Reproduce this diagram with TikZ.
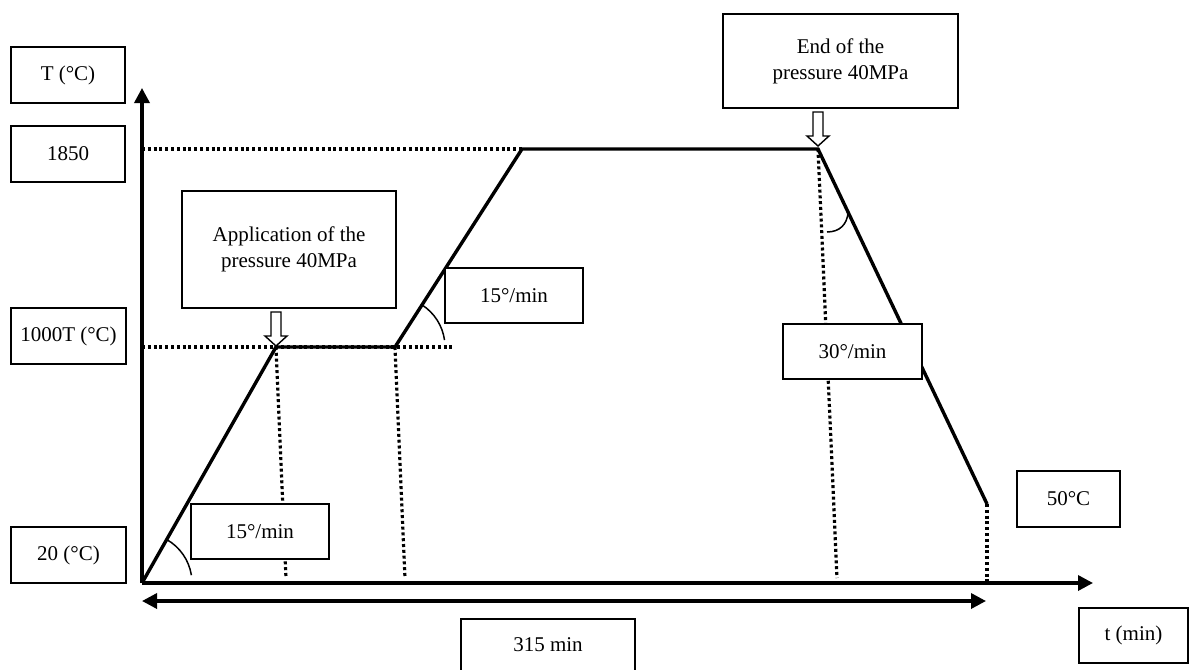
\documentclass[tikz,border=0pt]{standalone}
\usepackage{fontspec}
\setmainfont{Liberation Serif}
\usetikzlibrary{arrows.meta}
\begin{document}
\begin{tikzpicture}[x=1pt,y=-1pt,
  font=\fontsize{21}{26}\selectfont,
  box/.style={draw, line width=1.5pt, fill=white, inner sep=0pt, align=center},
  axis/.style={line width=3.4pt, -{Triangle[length=15pt,width=15pt]}},
  profile/.style={line width=3.4pt, line join=miter},
  dotline/.style={line width=3.2pt, dash pattern=on 3pt off 2.8pt},
  anglearc/.style={line width=1.5pt},
  harrow/.pic={\draw[line width=1.4pt, fill=white, line join=miter]
      (-5,-34) -- (5,-34) -- (5,-10) -- (11,-10) -- (0,0) -- (-11,-10) -- (-5,-10) -- cycle;}
]
\clip (0,0) rectangle (1190,669);
\useasboundingbox (0,0) rectangle (1190,669);

% key points
\coordinate (O) at (142,583);
\coordinate (A) at (276,347);
\coordinate (B) at (395,347);
\coordinate (C) at (522,149);
\coordinate (D) at (818,149);
\coordinate (E) at (987,504);
\coordinate (Eb) at (987,583);
\coordinate (ytop) at (142,88);
\coordinate (xend) at (1093,583);
\coordinate (y1850) at (142,149);
\coordinate (y1000) at (142,347);
\coordinate (x1000) at (453,347);
\coordinate (Ab) at (286,578);
\coordinate (Bb) at (405,578);
\coordinate (Db) at (837,578);
\coordinate (dl) at (142,601);
\coordinate (dr) at (986,601);

% dotted guide lines
\draw[dotline] (y1850) -- (C);
\draw[dotline] (y1000) -- (x1000);
\draw[dotline] (A) -- (Ab);
\draw[dotline] (B) -- (Bb);
\draw[dotline] (D) -- (Db);
\draw[dotline] (E) -- (Eb);

% axes
\draw[axis] (O) -- (ytop);
\draw[axis] (O) -- (xend);
\draw[line width=3.4pt, {Triangle[length=15pt,width=15pt]}-{Triangle[length=15pt,width=15pt]}] (dl) -- (dr);

% temperature profile
\draw[profile] (O) -- (A) -- (B) -- (C) -- (D) -- (E);

% angle marks
\draw[anglearc] (O) ++(-60.4:50) arc[start angle=-60.4, end angle=-9, radius=50];
\draw[anglearc] (B) ++(-57.3:50) arc[start angle=-57.3, end angle=-8, radius=50];
\draw[anglearc] (827,232) .. controls (840,232) and (847,224) .. (848,213);

% hollow arrows
\pic at (276,346) {harrow};
\pic at (818,146) {harrow};

% boxes
\node[box, minimum width=114pt, minimum height=56pt] (tbox) at (68,75) {T (°C)};
\node[box, minimum width=114pt, minimum height=56pt] (b1850) at (68,154) {1850};
\node[box, minimum width=115pt, minimum height=56pt] (b1000) at (68.5,336) {1000T (°C)};
\node[box, minimum width=115pt, minimum height=56pt] (b20) at (68.5,555) {20 (°C)};
\node[box, minimum width=214pt, minimum height=117pt] (app) at (289,249.5) {Application of the\\pressure 40MPa};
\node[box, minimum width=235pt, minimum height=94pt] (endp) at (840.5,61) {End of the\\pressure 40MPa};
\node[box, minimum width=138pt, minimum height=55pt] (r15a) at (514,295.5) {15°/min};
\node[box, minimum width=138pt, minimum height=55pt] (r15b) at (260,531.5) {15°/min};
\node[box, minimum width=139pt, minimum height=55pt] (r30) at (852.5,351.5) {30°/min};
\node[box, minimum width=103pt, minimum height=56pt] (b50) at (1068.5,499) {50°C};
\node[box, minimum width=109pt, minimum height=55pt] (tmin) at (1133.5,635.5) {t (min)};
\node[box, minimum width=174pt, minimum height=60pt, text depth=0pt] (m315) at (548,649) {\raisebox{8pt}{315 min}};
\end{tikzpicture}
\end{document}
